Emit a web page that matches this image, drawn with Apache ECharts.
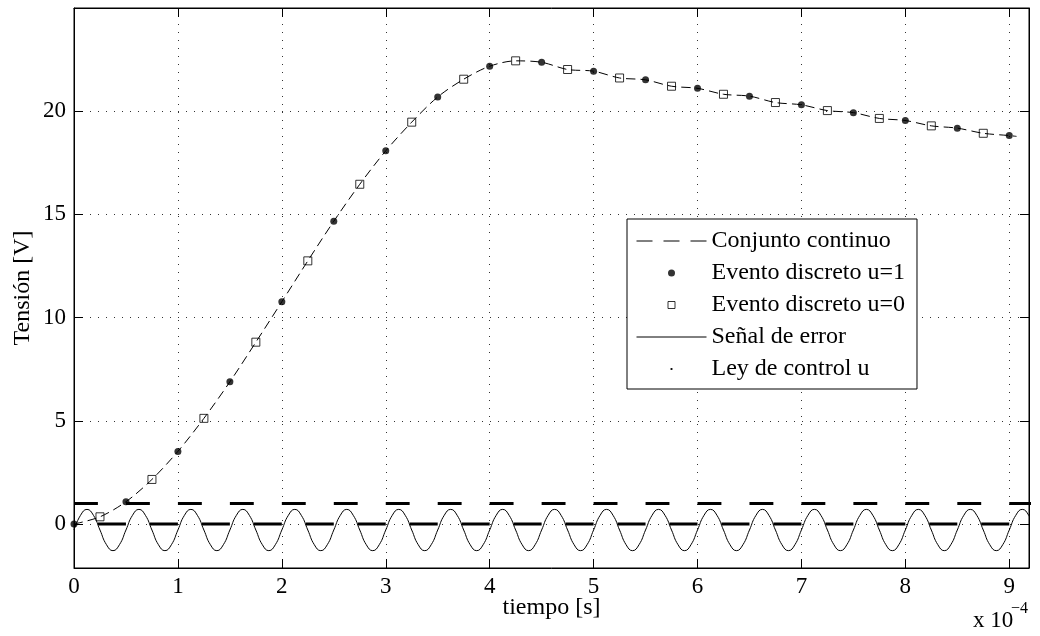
<!DOCTYPE html>
<html><head><meta charset="utf-8">
<script src="https://cdn.jsdelivr.net/npm/echarts@6/dist/echarts.min.js"></script>
<style>html,body{margin:0;padding:0;background:#fff}#c{width:1040px;height:636px}</style>
</head><body><div id="c"></div>
<script>
// ---- tick labels (time in units of 1e-4 s) ----
const xTicks = [0, 1, 2, 3, 4, 5, 6, 7, 8, 9];
const yTicks = [0, 5, 10, 15, 20];

// ---- Conjunto continuo (dashed trajectory), time in 1e-4 s ----
const contT = [0, 0.25, 0.5, 0.75, 1, 1.25, 1.5, 1.75, 2, 2.25, 2.5, 2.75, 3, 3.25, 3.5, 3.75, 4, 4.25, 4.5, 4.75,
  5, 5.25, 5.5, 5.75, 6, 6.25, 6.5, 6.75, 7, 7.25, 7.5, 7.75, 8, 8.25, 8.5, 8.75, 9, 9.07];
const contV = [0, 0.35, 1.08, 2.16, 3.52, 5.12, 6.89, 8.81, 10.77, 12.75, 14.67, 16.46, 18.08, 19.47, 20.69, 21.55,
  22.18, 22.44, 22.37, 22.02, 21.94, 21.61, 21.52, 21.21, 21.11, 20.82, 20.73, 20.42, 20.31, 20.03, 19.93, 19.65,
  19.55, 19.29, 19.18, 18.93, 18.82, 18.78];

// ---- Evento discreto u=1 (filled dots) ----
const evOnT = [0, 0.5, 1, 1.5, 2, 2.5, 3, 3.5, 4, 4.5, 5, 5.5, 6, 6.5, 7, 7.5, 8, 8.5, 9];
const evOnV = [0, 1.08, 3.52, 6.89, 10.77, 14.67, 18.08, 20.69, 22.18, 22.37, 21.94, 21.52, 21.11, 20.73, 20.31, 19.93, 19.55, 19.18, 18.82];

// ---- Evento discreto u=0 (open squares) ----
const evOffT = [0.25, 0.75, 1.25, 1.75, 2.25, 2.75, 3.25, 3.75, 4.25, 4.75, 5.25, 5.75, 6.25, 6.75, 7.25, 7.75, 8.25, 8.75];
const evOffV = [0.35, 2.16, 5.12, 8.81, 12.75, 16.46, 19.47, 21.55, 22.44, 22.02, 21.61, 21.21, 20.82, 20.42, 20.03, 19.65, 19.29, 18.93];

// ---- Señal de error: samples every 0.0625e-4 s starting at t=0 ----
const errStep = 0.0625;
const errV = [
  -0.29, 0.42, 0.71, 0.42, -0.29, -1.00, -1.29, -1.00,
  -0.29, 0.42, 0.71, 0.42, -0.29, -1.00, -1.29, -1.00,
  -0.29, 0.42, 0.71, 0.42, -0.29, -1.00, -1.29, -1.00,
  -0.29, 0.42, 0.71, 0.42, -0.29, -1.00, -1.29, -1.00,
  -0.29, 0.42, 0.71, 0.42, -0.29, -1.00, -1.29, -1.00,
  -0.29, 0.42, 0.71, 0.42, -0.29, -1.00, -1.29, -1.00,
  -0.29, 0.42, 0.71, 0.42, -0.29, -1.00, -1.29, -1.00,
  -0.29, 0.42, 0.71, 0.42, -0.29, -1.00, -1.29, -1.00,
  -0.29, 0.42, 0.71, 0.42, -0.29, -1.00, -1.29, -1.00,
  -0.29, 0.42, 0.71, 0.42, -0.29, -1.00, -1.29, -1.00,
  -0.29, 0.42, 0.71, 0.42, -0.29, -1.00, -1.29, -1.00,
  -0.29, 0.42, 0.71, 0.42, -0.29, -1.00, -1.29, -1.00,
  -0.29, 0.42, 0.71, 0.42, -0.29, -1.00, -1.29, -1.00,
  -0.29, 0.42, 0.71, 0.42, -0.29, -1.00, -1.29, -1.00,
  -0.29, 0.42, 0.71, 0.42, -0.29, -1.00, -1.29, -1.00,
  -0.29, 0.42, 0.71, 0.42, -0.29, -1.00, -1.29, -1.00,
  -0.29, 0.42, 0.71, 0.42, -0.29, -1.00, -1.29, -1.00,
  -0.29, 0.42, 0.71, 0.42, -0.29, -1.00, -1.29, -1.00,
  -0.29, 0.42, 0.71, 0.42, -0.29
];

// ---- Ley de control u: switching instants and level held after each ----
const uSwitchT = [0, 0.23, 0.5, 0.73, 1, 1.23, 1.5, 1.73, 2, 2.23, 2.5, 2.73, 3, 3.23, 3.5, 3.73, 4, 4.23, 4.5, 4.73,
  5, 5.23, 5.5, 5.73, 6, 6.23, 6.5, 6.73, 7, 7.23, 7.5, 7.73, 8, 8.23, 8.5, 8.73, 9, 9.23];
const uLevel = [1, 0, 1, 0, 1, 0, 1, 0, 1, 0, 1, 0, 1, 0, 1, 0, 1, 0, 1, 0, 1, 0, 1, 0, 1, 0, 1, 0, 1, 0, 1, 0, 1, 0, 1, 0, 1];

const FONT = '"Liberation Serif", "Times New Roman", serif';
const zip = (a, b) => a.map((v, i) => [v, b[i]]);
const errData = errV.map((v, i) => [i * errStep, v]);
const uData = [];
for (let i = 0; i < uLevel.length; i++) {
  uData.push([uSwitchT[i], uLevel[i]], [uSwitchT[i + 1], uLevel[i]], [uSwitchT[i + 1], '-']);
}

const axisCommon = {
  type: 'value',
  axisLine: { show: true, onZero: false, lineStyle: { color: '#000', width: 1 } },
};
const hiddenSym = { color: 'rgba(0,0,0,0)', borderColor: 'rgba(0,0,0,0)', borderWidth: 0, opacity: 0 };

const chart = echarts.init(document.getElementById('c'), null, { renderer: 'canvas' });
chart.setOption({
  animation: false,
  backgroundColor: '#fff',
  grid: { left: 74, top: 8, right: 11, bottom: 68, show: true, borderColor: '#000', borderWidth: 1 },
  xAxis: [
    Object.assign({}, axisCommon, {
      min: 0, max: 9.19, position: 'bottom',
      name: 'tiempo [s]', nameLocation: 'middle', nameGap: 28, nameMoveOverlap: false,
      nameTextStyle: { fontFamily: FONT, fontSize: 24, color: '#000' },
      axisTick: { show: true, inside: true, length: 9, customValues: xTicks, lineStyle: { color: '#000' } },
      axisLabel: { show: true, customValues: xTicks, margin: 7, fontFamily: FONT, fontSize: 23, color: '#000' },
      splitLine: { show: true, lineStyle: { color: '#333', type: [1, 7], width: 1 } }
    }),
    Object.assign({}, axisCommon, {
      min: 0, max: 9.19, position: 'top',
      axisTick: { show: true, inside: true, length: 9, customValues: xTicks, lineStyle: { color: '#000' } },
      axisLabel: { show: false },
      splitLine: { show: false }
    })
  ],
  yAxis: [
    Object.assign({}, axisCommon, {
      min: -2.13, max: 25, position: 'left',
      name: 'Tensión [V]', nameLocation: 'middle', nameGap: 39, nameMoveOverlap: false,
      nameTextStyle: { fontFamily: FONT, fontSize: 24, color: '#000' },
      axisTick: { show: true, inside: true, length: 9, customValues: yTicks, lineStyle: { color: '#000' } },
      axisLabel: { show: true, customValues: yTicks, margin: 8, fontFamily: FONT, fontSize: 23, color: '#000' },
      splitLine: { show: true, lineStyle: { color: '#333', type: [1, 7], width: 1 } }
    }),
    Object.assign({}, axisCommon, {
      min: -2.13, max: 25, position: 'right',
      axisTick: { show: true, inside: true, length: 9, customValues: yTicks, lineStyle: { color: '#000' } },
      axisLabel: { show: false },
      splitLine: { show: false }
    })
  ],
  legend: {
    orient: 'vertical', left: 627, top: 219,
    padding: [10, 12, 8, 9], itemGap: 8, itemWidth: 70, itemHeight: 7,
    backgroundColor: '#fff', borderColor: '#000', borderWidth: 1, borderRadius: 0,
    selectedMode: false,
    textStyle: { fontFamily: FONT, fontSize: 24, color: '#000' },
    data: [
      { name: 'Conjunto continuo', itemStyle: hiddenSym, lineStyle: { type: [16, 11], width: 1, color: '#000' } },
      { name: 'Evento discreto u=1', icon: 'circle', itemStyle: { color: '#000' } },
      { name: 'Evento discreto u=0', icon: 'path://M0,0h10v10h-10z', itemStyle: { color: 'rgba(0,0,0,0)', borderColor: '#000', borderWidth: 1 } },
      { name: 'Señal de error', itemStyle: hiddenSym, lineStyle: { width: 1, color: '#000', type: 'solid' } },
      { name: 'Ley de control u', icon: 'path://M0,0M6,6M2.2,2.2h1.6v1.6h-1.6z', itemStyle: { color: '#000' } }
    ]
  },
  graphic: [
    { type: 'text', left: 973, top: 609, style: { text: 'x 10', fontFamily: FONT, fontSize: 23, fill: '#000' } },
    { type: 'text', left: 1011, top: 601, style: { text: '\u22124', fontFamily: FONT, fontSize: 16, fill: '#000' } }
  ],
  series: [
    {
      name: 'Señal de error', type: 'line', data: errData, smooth: 0.5,
      showSymbol: false, symbol: 'none', lineStyle: { color: '#000', width: 1 }, itemStyle: { color: '#000' }, z: 2
    },
    {
      name: 'Ley de control u', type: 'line', data: uData, connectNulls: false,
      showSymbol: false, symbol: 'none', lineStyle: { color: '#000', width: 3 }, itemStyle: { color: '#000' }, z: 3
    },
    {
      name: 'Conjunto continuo', type: 'line', data: zip(contT, contV), smooth: 0.3,
      showSymbol: false, symbol: 'none', lineStyle: { color: '#000', width: 1, type: [9, 5] }, itemStyle: { color: '#000' }, z: 4
    },
    {
      name: 'Evento discreto u=1', type: 'scatter', data: zip(evOnT, evOnV),
      symbol: 'circle', symbolSize: 7, itemStyle: { color: '#000' }, z: 5
    },
    {
      name: 'Evento discreto u=0', type: 'scatter', data: zip(evOffT, evOffV),
      symbol: 'rect', symbolSize: 8, itemStyle: { color: 'rgba(0,0,0,0)', borderColor: '#000', borderWidth: 1 }, z: 5
    }
  ]
});
</script>
</body></html>
